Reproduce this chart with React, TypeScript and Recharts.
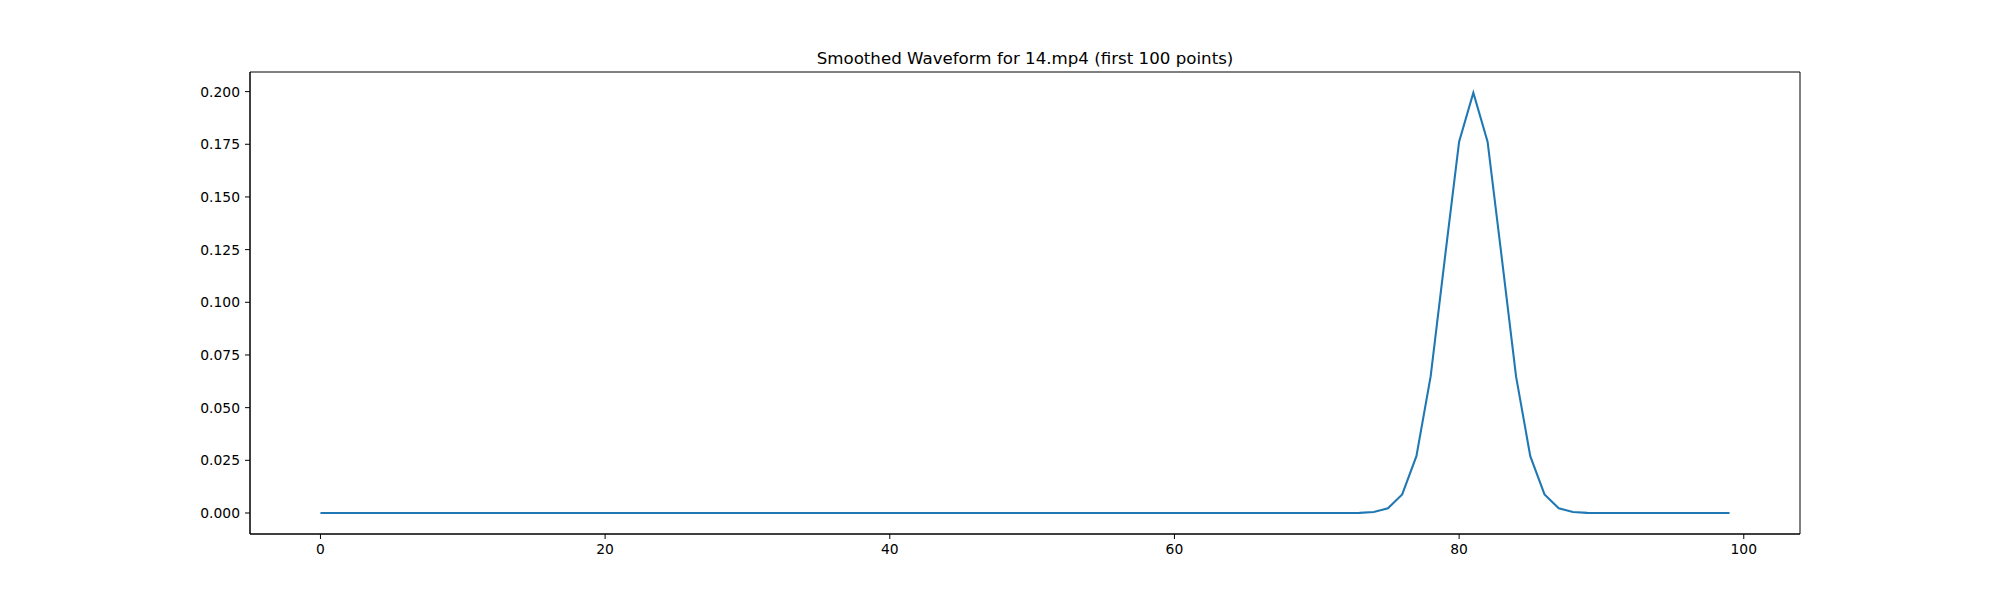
import React from "react";
import { LineChart, Line, XAxis, YAxis, ReferenceArea } from "recharts";

const zeros = (n: number) => Array.from({ length: n }, () => 0);

// smoothed waveform samples 0..99
const leadingZeros = zeros(73); // samples 0..72
const pulseValues = [
  0.00004, 0.00045, 0.0022, 0.0088, 0.027, 0.0648, 0.121, 0.1762, 0.1995,
  0.1762, 0.121, 0.0648, 0.027, 0.0088, 0.0022, 0.00045, 0.00004,
]; // samples 73..89
const trailingZeros = zeros(10); // samples 90..99

const values = [...leadingZeros, ...pulseValues, ...trailingZeros];
const xTicks = [0, 20, 40, 60, 80, 100];
const yTicks = [0, 0.025, 0.05, 0.075, 0.1, 0.125, 0.15, 0.175, 0.2];
const xDomain = [-4.95, 103.95];
const yDomain = [-0.00997, 0.2093];
const title = "Smoothed Waveform for 14.mp4 (first 100 points)";

const data = values.map((v, i) => ({ x: i, y: v }));

const FONT = "'DejaVu Sans', sans-serif";

export default function App() {
  return (
    <div style={{ position: "absolute", left: 0, top: 0, width: 2000, height: 600, background: "#fff" }}>
      <svg width={2000} height={600} style={{ position: "absolute", left: 0, top: 0 }}>
        <text x={1025} y={64} textAnchor="middle" fontFamily={FONT} fontSize={16.67} fill="#000">
          {title}
        </text>
      </svg>
      <div style={{ position: "absolute", left: 0, top: 0 }}>
        <LineChart
          width={2000}
          height={600}
          data={data}
          margin={{ top: 72, right: 200, bottom: 36, left: 190 }}
        >
          <XAxis
            dataKey="x"
            type="number"
            domain={xDomain}
            ticks={xTicks}
            allowDataOverflow
            height={30}
            stroke="#000"
            tickSize={5}
            tickMargin={5}
            tick={{ fill: "#000", fontSize: 13.89, fontFamily: FONT }}
            tickLine={{ stroke: "#000" }}
          />
          <YAxis
            type="number"
            domain={yDomain}
            ticks={yTicks}
            allowDataOverflow
            width={60}
            stroke="#000"
            tickSize={5}
            tickMargin={5}
            tickFormatter={(v: number) => v.toFixed(3)}
            tick={{ fill: "#000", fontSize: 13.89, fontFamily: FONT }}
            tickLine={{ stroke: "#000" }}
          />
          <ReferenceArea
            x1={xDomain[0]}
            x2={xDomain[1]}
            y1={yDomain[0]}
            y2={yDomain[1]}
            fill="none"
            fillOpacity={0}
            stroke="#000"
            strokeWidth={1}
            ifOverflow="visible"
          />
          <Line
            type="linear"
            dataKey="y"
            stroke="#1f77b4"
            strokeWidth={2.08}
            dot={false}
            isAnimationActive={false}
          />
        </LineChart>
      </div>
    </div>
  );
}
